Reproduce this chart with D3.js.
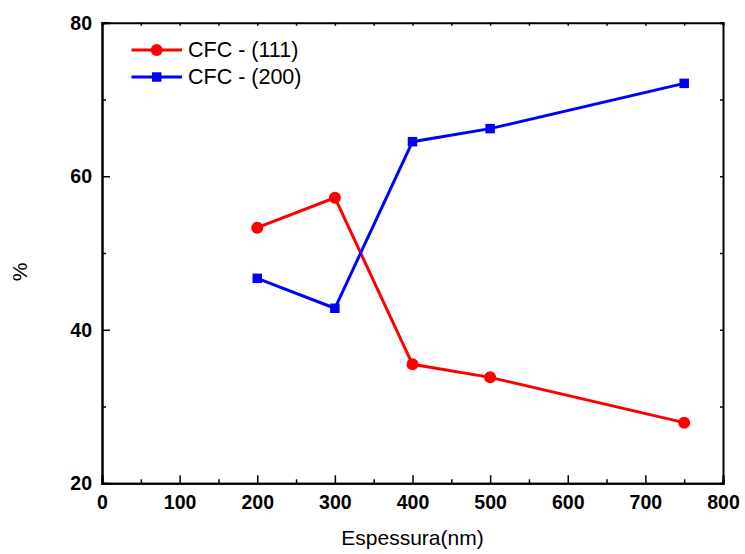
<!DOCTYPE html>
<html>
<head>
<meta charset="utf-8">
<script src="https://cdn.jsdelivr.net/npm/d3@7"></script>
<style>
  html, body { margin: 0; padding: 0; background: #fff; }
  svg { display: block; }
  text { font-family: "Liberation Sans", Arial, sans-serif; }
</style>
</head>
<body>
<svg id="chart" width="745" height="554"></svg>
<script>
// Thickness values (nm) and phase fractions (%)
const thickness = [200, 300, 400, 500, 750];
const cfc111 = [53.3, 57.2, 35.5, 33.8, 27.9];
const cfc200 = [46.7, 42.8, 64.5, 66.2, 72.1];
const seriesNames = ["CFC - (111)", "CFC - (200)"];
const xTicks = [0, 100, 200, 300, 400, 500, 600, 700, 800];
const yTicks = [20, 40, 60, 80];

const svg = d3.select("#chart");
const plotLeft = 102, plotRight = 723, plotTop = 22.7, plotBottom = 483.3;

const x = d3.scaleLinear().domain([0, 800]).range([plotLeft, plotRight]);
const y = d3.scaleLinear().domain([20, 80]).range([plotBottom, plotTop]);

const axisStyle = g => {
  g.select(".domain").attr("stroke", "#000").attr("stroke-width", 2);
  g.selectAll(".tick line").attr("stroke", "#000").attr("stroke-width", 1.5);
  g.selectAll(".tick text")
    .attr("font-size", 19.5).attr("font-weight", "bold").attr("fill", "#000")
    .attr("font-family", "'Liberation Sans', Arial, sans-serif");
};

// minor ticks
svg.append("g").attr("transform", `translate(0,${plotBottom})`)
  .call(d3.axisBottom(x).tickValues(d3.range(50, 800, 100)).tickSize(-4).tickFormat(""))
  .call(axisStyle);
svg.append("g").attr("transform", `translate(${plotLeft},0)`)
  .call(d3.axisLeft(y).tickValues(d3.range(30, 80, 20)).tickSize(-4).tickFormat(""))
  .call(axisStyle);

// major ticks with labels
svg.append("g").attr("transform", `translate(0,${plotBottom})`)
  .call(d3.axisBottom(x).tickValues(xTicks).tickSize(-8).tickPadding(12).tickFormat(d3.format("d")))
  .call(axisStyle);
svg.append("g").attr("transform", `translate(${plotLeft},0)`)
  .call(d3.axisLeft(y).tickValues(yTicks).tickSize(-8).tickPadding(10).tickFormat(d3.format("d")))
  .call(axisStyle)
  .selectAll(".tick text").attr("dy", "0.34em");

// mirrored top and right axes
svg.append("g").attr("transform", `translate(0,${plotTop})`)
  .call(d3.axisTop(x).tickValues(d3.range(0, 801, 50)).tickSize(-3).tickFormat(""))
  .call(axisStyle);
svg.append("g").attr("transform", `translate(${plotRight},0)`)
  .call(d3.axisRight(y).tickValues(d3.range(20, 81, 10)).tickSize(-3).tickFormat(""))
  .call(axisStyle);

// axis titles
svg.append("text")
  .attr("x", (plotLeft + plotRight) / 2).attr("y", 545)
  .attr("text-anchor", "middle").attr("font-size", 21)
  .text("Espessura(nm)");
svg.append("text")
  .attr("transform", "translate(27,272) rotate(-90)")
  .attr("text-anchor", "middle").attr("font-size", 21)
  .text("%");

const line = d3.line().x((d, i) => x(thickness[i])).y(d => y(d));

// CFC (111) series
svg.append("path").datum(cfc111)
  .attr("d", line).attr("fill", "none").attr("stroke", "#ff0000").attr("stroke-width", 3);
svg.selectAll(".c111").data(cfc111).enter().append("circle")
  .attr("cx", (d, i) => x(thickness[i])).attr("cy", d => y(d))
  .attr("r", 6).attr("fill", "#ff0000");

// CFC (200) series
svg.append("path").datum(cfc200)
  .attr("d", line).attr("fill", "none").attr("stroke", "#0000ff").attr("stroke-width", 3);
const sq = 9.5;
svg.selectAll(".c200").data(cfc200).enter().append("rect")
  .attr("x", (d, i) => x(thickness[i]) - sq / 2).attr("y", d => y(d) - sq / 2)
  .attr("width", sq).attr("height", sq).attr("fill", "#0000ff");

// legend
const legend = svg.append("g");
const rows = [
  { name: seriesNames[0], color: "#ff0000", shape: "circle", cy: 50 },
  { name: seriesNames[1], color: "#0000ff", shape: "square", cy: 77 }
];
rows.forEach(r => {
  legend.append("line").attr("x1", 131.5).attr("x2", 182).attr("y1", r.cy).attr("y2", r.cy)
    .attr("stroke", r.color).attr("stroke-width", 3);
  if (r.shape === "circle") {
    legend.append("circle").attr("cx", 156.7).attr("cy", r.cy).attr("r", 6).attr("fill", r.color);
  } else {
    legend.append("rect").attr("x", 156.7 - sq / 2).attr("y", r.cy - sq / 2)
      .attr("width", sq).attr("height", sq).attr("fill", r.color);
  }
  legend.append("text").attr("x", 188).attr("y", r.cy + 7)
    .attr("font-size", 21.5).attr("fill", "#000").text(r.name);
});
</script>
</body>
</html>
